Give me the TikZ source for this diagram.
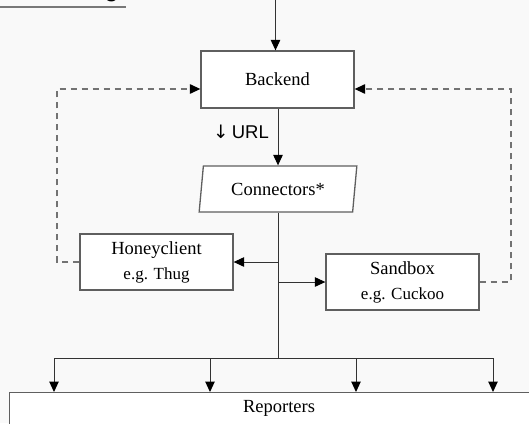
\documentclass[tikz,border=0pt]{standalone}
\usepackage{fontspec}
\setmainfont{Liberation Serif}
\newfontfamily\labelsans{Liberation Sans}
\newfontfamily\symsans{DejaVu Sans}
\usetikzlibrary{arrows.meta,shapes.geometric}
\definecolor{pagebg}{RGB}{249,249,249}
\definecolor{boxline}{RGB}{95,95,95}
\definecolor{dashline}{RGB}{115,115,115}
\definecolor{ruleline}{RGB}{120,120,120}

\begin{document}
\begin{tikzpicture}[x=1pt,y=-1pt,
  tip/.style={-{Triangle[length=10.5pt,width=9.5pt,color=black]}},
  box/.style={draw=boxline, line width=1.3pt, fill=white, inner sep=0pt},
  flow/.style={draw=black!80, line width=1pt},
  feedback/.style={draw=dashline, line width=1.2pt, dash pattern=on 6pt off 5pt},
  maintext/.style={font=\fontsize{18.5}{25}\selectfont},
  twoline/.style={align=center, font=\fontsize{18.5}{25}\selectfont},
]
\useasboundingbox (0,0) rectangle (529,423);
\fill[pagebg] (0,0) rectangle (529,423);
\begin{scope}
\clip (0,0) rectangle (529,423);

% heading rule with the tail of its last letter
\draw[ruleline, line width=1.5pt] (0,7) -- (126,7);
\node[font=\labelsans\fontsize{26}{30}\selectfont, anchor=base, inner sep=0pt] (headtail) at (111.5,-3) {g};

% boxes
\node[box, minimum width=153pt, minimum height=57pt, maintext] (backend) at (277.5,79.5) {Backend};
\node[box, trapezium, trapezium left angle=78, trapezium right angle=102,
      trapezium stretches=true, minimum width=158pt, minimum height=46pt, maintext]
      (connectors) at (278,189) {Connectors*};
\node[box, minimum width=153pt, minimum height=56pt, twoline] (honey) at (156.5,262)
      {Honeyclient\\[0pt]{\fontsize{17}{25}\selectfont e.g. Thug}};
\node[box, minimum width=153pt, minimum height=56pt, twoline] (sandbox) at (402.5,282)
      {Sandbox\\[0pt]{\fontsize{17}{25}\selectfont e.g. Cuckoo}};
\node[box, minimum width=540pt, minimum height=60pt, anchor=north west] (reporters) at (9,392) {};
\node[maintext, inner sep=0pt] (reporterstext) at (279,408) {Reporters};

% incoming request
\coordinate (entry) at (275.5,0);
\draw[flow, tip] (entry) -- (entry |- backend.north);

% backend to connectors
\draw[flow, tip] (backend.south -| connectors.north) -- (connectors.north);
\node[anchor=east, inner sep=0pt, font=\fontsize{18.5}{22}\selectfont] (urllabel) at (269,132)
      {{\symsans ↓}\,{\labelsans URL}};

% connectors fan out
\coordinate (b1) at (54,358);
\coordinate (b2) at (210,358);
\coordinate (b3) at (356,358);
\coordinate (b4) at (493,358);
\draw[flow] (connectors.south) -- (connectors.south |- b1);
\draw[flow, tip] (honey.east -| connectors.south) -- (honey.east);
\draw[flow, tip] (sandbox.west -| connectors.south) -- (sandbox.west);
\draw[flow] (b1) -- (b4);
\foreach \b in {b1,b2,b3,b4}
  \draw[flow, tip] (\b) -- (\b |- reporters.north);

% feedback to backend
\coordinate (lbend) at (57,89);
\coordinate (rbend) at (511,89);
\draw[feedback, tip] (honey.west) -- (honey.west -| lbend) -- (lbend) -- (lbend -| backend.west);
\draw[feedback, tip] (sandbox.east) -- (sandbox.east -| rbend) -- (rbend) -- (rbend -| backend.east);
\end{scope}
\end{tikzpicture}
\end{document}
